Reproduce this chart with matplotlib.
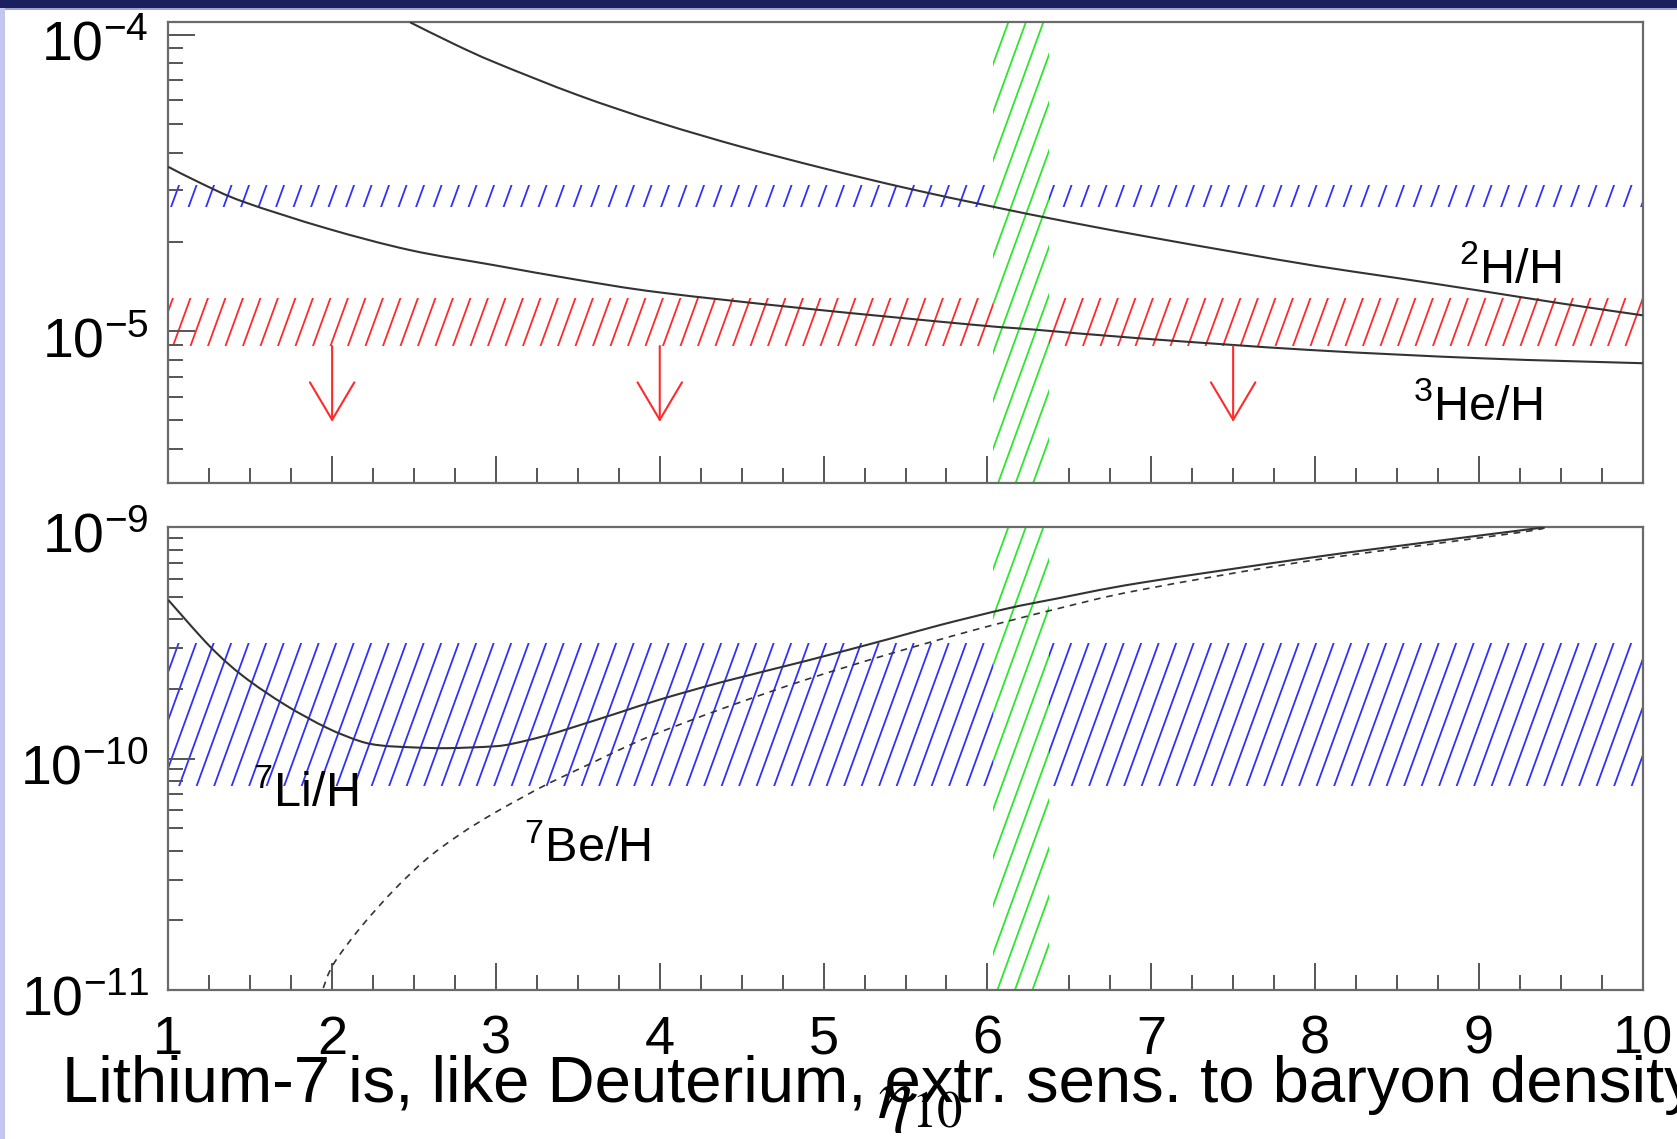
import numpy as np
import matplotlib
matplotlib.use('Agg')
import matplotlib.pyplot as plt
from matplotlib.patches import Rectangle, Polygon, PathPatch
from matplotlib.path import Path
from matplotlib.collections import LineCollection
from matplotlib.transforms import ScaledTranslation
from matplotlib.ticker import MultipleLocator, LogLocator, NullFormatter

plt.rcParams['font.family'] = ['Liberation Sans', 'DejaVu Sans']
plt.rcParams['mathtext.fontset'] = 'custom'
plt.rcParams['mathtext.rm'] = 'Liberation Sans'
plt.rcParams['mathtext.it'] = 'Liberation Sans:italic'
plt.rcParams['mathtext.bf'] = 'Liberation Sans:bold'

# ---------------- data ----------------
eta_D = [2.476, 2.75, 3.0, 3.5, 4.0, 4.5, 5.0, 5.5, 6.0, 6.5, 7.0, 7.5, 8.0, 8.5, 9.0, 9.5, 10.0]
D_H = [1.10e-4, 9.26e-5, 8.03e-5, 6.25e-5, 5.04e-5, 4.18e-5, 3.54e-5, 3.04e-5, 2.65e-5, 2.33e-5,
       2.07e-5, 1.85e-5, 1.66e-5, 1.51e-5, 1.37e-5, 1.24e-5, 1.13e-5]

eta_He3 = [1.0, 1.2, 1.458, 1.967, 2.476, 2.984, 3.493, 4.0, 4.897, 5.915, 6.30, 6.932, 7.976, 9.023, 10.0]
He3_H = [3.58e-5, 3.15e-5, 2.73e-5, 2.22e-5, 1.875e-5, 1.67e-5, 1.49e-5, 1.35e-5, 1.19e-5, 1.05e-5,
         1.01e-5, 9.45e-6, 8.63e-6, 8.09e-6, 7.79e-6]

eta_Li = [1.0, 1.255, 1.458, 1.712, 1.967, 2.17, 2.3, 2.476, 2.7, 2.984, 3.1, 3.29, 3.49, 3.75, 4.0,
          4.387, 4.897, 5.406, 5.711, 6.118, 6.424, 6.932, 7.976, 8.81, 9.23, 9.40]
Li_H = [4.85e-10, 3.05e-10, 2.27e-10, 1.71e-10, 1.36e-10, 1.19e-10, 1.14e-10, 1.12e-10, 1.11e-10,
        1.13e-10, 1.16e-10, 1.25e-10, 1.38e-10, 1.58e-10, 1.80e-10, 2.15e-10, 2.65e-10, 3.30e-10,
        3.78e-10, 4.45e-10, 4.92e-10, 5.75e-10, 7.40e-10, 8.85e-10, 9.65e-10, 1.0e-9]

eta_Be = [1.946, 2.007, 2.17, 2.374, 2.578, 2.781, 2.984, 3.249, 3.391, 3.595, 3.799, 4.0, 4.387,
          4.897, 5.406, 5.915, 6.424, 6.932, 7.976, 9.23, 9.40]
Be_H = [1.02e-11, 1.29e-11, 1.85e-11, 2.69e-11, 3.69e-11, 4.71e-11, 5.79e-11, 7.35e-11, 8.25e-11,
        9.65e-11, 1.13e-10, 1.30e-10, 1.65e-10, 2.20e-10, 2.84e-10, 3.59e-10, 4.44e-10, 5.36e-10,
        7.18e-10, 9.46e-10, 1.0e-9]

D_band = [2.62e-5, 3.10e-5]
He3_band = [8.9e-6, 1.29e-5]
Li_band = [7.6e-11, 3.16e-10]
eta_band = [6.037, 6.379]

arrow_eta = [2.0, 4.0, 7.5]
arrow_from = 8.9e-6
arrow_to = 4.94e-6

x_range = [1, 10]
ylim_top = [3.08e-6, 1.10e-4]
ylim_bot = [1e-11, 1e-9]

caption = 'Lithium-7 is, like Deuterium, extr. sens. to baryon density'

# ---------------- figure ----------------
W, H = 1677, 1139
fig = plt.figure(figsize=(W / 100, H / 100), dpi=100)
fig.patches.append(Rectangle((0, 1 - 8 / H), 1, 8 / H, transform=fig.transFigure,
                             facecolor='#1b1f5e', edgecolor='none', zorder=0))
fig.patches.append(Rectangle((0, 1 - 10 / H), 1, 2 / H, transform=fig.transFigure,
                             facecolor='#9ea3d6', edgecolor='none', zorder=0))
fig.patches.append(Rectangle((0, 0), 5 / W, 1 - 8 / H, transform=fig.transFigure,
                             facecolor='#c3c6ee', edgecolor='none', zorder=0))

ax1 = fig.add_axes([168.3 / W, 1 - 482.7 / H, 1474.4 / W, 460.4 / H])
ax2 = fig.add_axes([168.3 / W, 1 - 990 / H, 1474.4 / W, 462.7 / H])


def style(ax, ylim, labelx):
    ax.set_xlim(*x_range)
    ax.set_yscale('log')
    ax.set_ylim(*ylim)
    ax.xaxis.set_major_locator(MultipleLocator(1))
    ax.xaxis.set_minor_locator(MultipleLocator(0.25))
    ax.yaxis.set_major_locator(LogLocator(base=10, numticks=20))
    ax.yaxis.set_minor_locator(LogLocator(base=10, subs=np.arange(2, 10), numticks=20))
    ax.yaxis.set_minor_formatter(NullFormatter())
    ax.tick_params(which='both', direction='in', top=False, right=False, color='#555555')
    ax.tick_params(which='major', length=19.5, width=1.4)
    ax.tick_params(which='minor', length=10.5, width=1.4)
    ax.tick_params(axis='y', labelsize=40, pad=14)
    ax.tick_params(axis='x', labelsize=39, pad=18, labelbottom=labelx)
    for s in ax.spines.values():
        s.set_color('#6a6a6a')
        s.set_linewidth(1.6)


def hatch_band(ax, x0, x1, y0, y1, color, z, white=False):
    poly = Polygon([(x0, y0), (x1, y0), (x1, y1), (x0, y1)], closed=True,
                   facecolor='white' if white else 'none', edgecolor='none', zorder=z)
    ax.add_patch(poly)
    wpx, hpx = ax.bbox.width, ax.bbox.height
    run = hpx / np.tan(np.radians(70))
    step = 17.5
    offs = np.arange(-run - step, wpx + step, step)
    segs = [[(o / wpx, 0), ((o + run) / wpx, 1)] for o in offs]
    lc = LineCollection(segs, colors=color, linewidths=1.3, transform=ax.transAxes, zorder=z + 0.1)
    ax.add_collection(lc, autolim=False)
    lc.set_clip_path(poly)


def smooth_curve(ax, x, y, **kw):
    # Catmull-Rom rendering (in x / log10 y space) of the read points
    xs = np.asarray(x, float)
    ly = np.log10(np.asarray(y, float))
    pts = np.column_stack([xs, ly])
    n = len(pts)
    verts = [pts[0]]
    codes = [Path.MOVETO]
    for i in range(n - 1):
        p0 = pts[i - 1] if i > 0 else pts[i]
        p1, p2 = pts[i], pts[i + 1]
        p3 = pts[i + 2] if i + 2 < n else pts[i + 1]
        verts += [p1 + (p2 - p0) / 6.0, p2 - (p3 - p1) / 6.0, p2]
        codes += [Path.CURVE4] * 3
    verts = np.array(verts)
    verts[:, 1] = 10 ** verts[:, 1]
    ax.add_patch(PathPatch(Path(verts, codes), fill=False, **kw))


style(ax1, ylim_top, False)
style(ax2, ylim_bot, True)

# nudge the y tick labels slightly downward (as in the original)
shift = ScaledTranslation(0, -4 / 72, fig.dpi_scale_trans)
for ax in (ax1, ax2):
    for t in ax.yaxis.get_major_ticks():
        t.label1.set_transform(t.label1.get_transform() + shift)

blue = '#3030ff'
red = '#ff2a2a'
green = '#2ee62e'
curve = '#333333'

# top panel
hatch_band(ax1, x_range[0], x_range[1], D_band[0], D_band[1], blue, 1)
hatch_band(ax1, x_range[0], x_range[1], He3_band[0], He3_band[1], red, 1)
hatch_band(ax1, eta_band[0], eta_band[1], ylim_top[0] * 0.5, ylim_top[1] * 2, green, 2, white=True)
smooth_curve(ax1, eta_D, D_H, edgecolor=curve, lw=1.5, zorder=3)
smooth_curve(ax1, eta_He3, He3_H, edgecolor=curve, lw=1.5, zorder=3)
for e in arrow_eta:
    ax1.annotate('', xy=(e, arrow_to), xytext=(e, arrow_from),
                 arrowprops=dict(arrowstyle='->,head_length=2.7,head_width=1.6', color=red,
                                 lw=1.5, mutation_scale=10, shrinkA=0, shrinkB=0), zorder=3)
ax1.text(8.88, 1.45e-5, '$^{2}$H/H', fontsize=35, ha='left', va='baseline', zorder=4)
ax1.text(8.60, 5.0e-6, '$^{3}$He/H', fontsize=35, ha='left', va='baseline', zorder=4)

# bottom panel
hatch_band(ax2, x_range[0], x_range[1], Li_band[0], Li_band[1], blue, 1)
hatch_band(ax2, eta_band[0], eta_band[1], ylim_bot[0] * 0.5, ylim_bot[1] * 2, green, 2, white=True)
smooth_curve(ax2, eta_Li, Li_H, edgecolor=curve, lw=1.5, zorder=3)
smooth_curve(ax2, eta_Be, Be_H, edgecolor=curve, lw=1.2, linestyle=(0, (4, 3.5)), zorder=3)
ax2.text(1.52, 6.15e-11, '$^{7}$Li/H', fontsize=35, ha='left', va='baseline', zorder=4)
ax2.text(3.17, 3.56e-11, '$^{7}$Be/H', fontsize=35, ha='left', va='baseline', zorder=4)

fig.text(877 / W, 1 - 1118 / H, r'$\eta_{10}$', fontsize=52, math_fontfamily='stix',
         ha='left', va='baseline', zorder=5)
fig.text(62 / W, 1 - 1102 / H, caption, fontsize=47, ha='left', va='baseline', zorder=10)

fig.savefig('out.png', dpi=100)
